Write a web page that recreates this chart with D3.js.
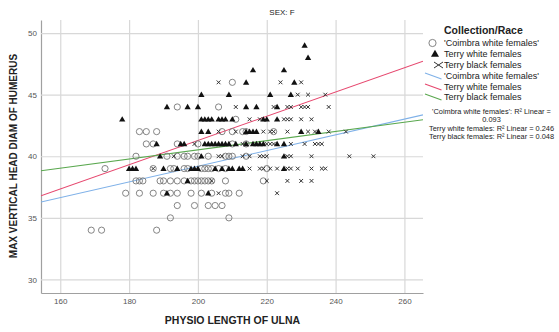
<!DOCTYPE html>
<html><head><meta charset="utf-8">
<script src="https://cdnjs.cloudflare.com/ajax/libs/d3/7.8.5/d3.min.js"></script>
<style>
body{margin:0;background:#fff}
svg text{font-family:"Liberation Sans",Arial,sans-serif}
</style>
</head><body>
<svg id="chart" width="559" height="332"></svg>
<script>
// Axis ticks
const xTicks = [160, 180, 200, 220, 240, 260];
const yTicks = [30, 35, 40, 45, 50];

// Groups
const groupNames = ["'Coimbra white females'", "Terry white females", "Terry black females"];

// [ulna length, humerus head diameter]
const coimbraPts = [
  [210,46],
  [194,44],[206,44],
  [211,43],
  [183,42],[185,42],[188,42],[207,42],[210,42],[213,42],[214,42],[222,42],
  [185,41],[187,41],[194,41],[200,41],[210,41],[214,41],
  [182,40],[191,40],[194,40],[196,40],[197,40],[199,40],[200,40],[203,40],[208,40],[209,40],[210,40],[214,40],
  [173,39],[187,39],[192,39],[193,39],[196,39],[197,39],[201,39],[202,39],[203,39],[204,39],[206,39],[208,39],[220,39],
  [182,38],[183,38],[184,38],[189,38],[190,38],[192,38],[194,38],[196,38],[198,38],[199,38],[200,38],[201,38],[202,38],[203,38],[204,38],[208,38],[219,38],
  [179,37],[183,37],[187,37],[190,37],[192,37],[194,37],[198,37],[201,37],[204,37],[208,37],[209,37],[212,37],
  [194,36],[199,36],[203,36],[205,36],[207,36],
  [192,35],[209,35],
  [169,34],[172,34],[188,34]
];
const terryWhitePts = [
  [231,49],[232,48],[216,47],[225,47],[214,46],[228,46],
  [201,45],[209,45],[221,45],[227,45],
  [191,44],[197,44],[200,44],[214,44],[217,44],[223,44],
  [178,43],[201,43],[202,43],[203,43],[204,43],[206,43],[207,43],[208,43],[210,43],[219,43],[220,43],[223,43],
  [201,42],[203,42],[214,42],[215,42],[216,42],[217,42],[230,42],[235,42],
  [188,41],[195,41],[196,41],[202,41],[203,41],[204,41],[205,41],[206,41],[207,41],[208,41],[209,41],[211,41],[214,41],[216,41],[217,41],[218,41],[219,41],[223,41],[225,41],
  [189,40],[201,40],[225,40],
  [180,39],[181,39],[182,39],[190,39],[194,39],[198,39],[199,39],[200,39],[205,39],[207,39],[209,39],[210,39],[212,39],[213,39],[225,39],
  [197,38],
  [191,37],[203,37]
];
const terryBlackPts = [
  [206,46],[224,46],[230,46],
  [229,45],[232,45],[237,45],
  [211,44],[222,44],[226,44],[227,44],[230,44],[231,44],[232,44],[238,44],
  [215,43],[218,43],[225,43],[226,43],[227,43],[230,43],[233,43],
  [206,42],[211,42],[219,42],[221,42],[222,42],[226,42],[232,42],[234,42],[238,42],[243,42],
  [199,41],[213,41],[220,41],[221,41],[222,41],[227,41],[231,41],[234,41],[235,41],[236,41],
  [193,40],[206,40],[207,40],[213,40],[215,40],[218,40],[219,40],[220,40],[226,40],[227,40],[233,40],[244,40],[251,40],
  [187,39],[215,39],[218,39],[219,39],[221,39],[223,39],[226,39],[227,39],[229,39],[233,39],[236,39],[237,39],
  [204,38],[220,38],[226,38],[230,38],[233,38],
  [206,37],[223,37]
];

// Linear fit per group: y = intercept + slope * x
const fitIntercepts = [26.45, 21.60, 33.06];
const fitSlopes = [0.0637, 0.0984, 0.0373];
const rSquared = ["0.093", "0.246", "0.048"];

const lineColors = ["#7fb1e8", "#e6476e", "#5aa84f"];

const svg = d3.select("#chart");
svg.append("rect").attr("width", 559).attr("height", 332).attr("fill", "#fff");

const plot = {left: 41, right: 423, top: 20, bottom: 293};
const x = d3.scaleLinear().domain([154.4, 265.4]).range([plot.left, plot.right]);
const y = d3.scaleLinear().domain([28.9, 51.06]).range([plot.bottom, plot.top]);

// Grid + axes
const gx = svg.append("g").attr("transform", `translate(0,${plot.bottom})`)
  .call(d3.axisBottom(x).tickValues(xTicks).tickSizeInner(-(plot.bottom - plot.top)).tickSizeOuter(0).tickPadding(5));
const gy = svg.append("g").attr("transform", `translate(${plot.left},0)`)
  .call(d3.axisLeft(y).tickValues(yTicks).tickSizeInner(-(plot.right - plot.left)).tickSizeOuter(0).tickPadding(4));
[gx, gy].forEach(g => {
  g.selectAll(".tick line").attr("stroke", "#d8d8d8").attr("stroke-width", 1.2);
  g.selectAll(".tick text").attr("fill", "#555").attr("font-size", 8).attr("font-family", "DejaVu Sans, sans-serif");
  g.select(".domain").attr("stroke", "#a0a0a0").attr("stroke-width", 1.2);
});

// Fit lines
svg.append("clipPath").attr("id", "plotclip").append("rect")
  .attr("x", plot.left).attr("y", plot.top).attr("width", plot.right - plot.left).attr("height", plot.bottom - plot.top);
const lineGen = d3.line().x(d => x(d[0])).y(d => y(d[1]));
const dom = x.domain();
fitIntercepts.forEach((b, i) => {
  const pts = dom.map(v => [v, b + fitSlopes[i] * v]);
  svg.append("path").attr("d", lineGen(pts)).attr("fill", "none")
    .attr("stroke", lineColors[i]).attr("stroke-width", 1.1).attr("clip-path", "url(#plotclip)");
});

// Markers
const crossPath = s => `M${-s},${-s}L${s},${s}M${-s},${s}L${s},${-s}`;
const tri = d3.symbol(d3.symbolTriangle, 17)();

svg.append("g").selectAll("circle").data(coimbraPts).join("circle")
  .attr("cx", d => x(d[0])).attr("cy", d => y(d[1])).attr("r", 3.1)
  .attr("fill", "none").attr("stroke", "#777").attr("stroke-width", 0.9);
svg.append("g").selectAll("path").data(terryWhitePts).join("path")
  .attr("d", tri).attr("transform", d => `translate(${x(d[0])},${y(d[1]) + 0.5})`)
  .attr("fill", "#111");
svg.append("g").selectAll("path").data(terryBlackPts).join("path")
  .attr("d", crossPath(1.9)).attr("transform", d => `translate(${x(d[0])},${y(d[1])})`)
  .attr("stroke", "#333").attr("stroke-width", 1).attr("fill", "none");

// Titles
svg.append("text").attr("x", 282).attr("y", 15).attr("text-anchor", "middle")
  .attr("font-size", 8).attr("fill", "#222").text("SEX: F");
svg.append("text").attr("x", 232.5).attr("y", 324).attr("text-anchor", "middle")
  .attr("font-size", 10.5).attr("font-weight", "bold").attr("fill", "#222").text("PHYSIO LENGTH OF ULNA");
svg.append("text").attr("transform", "translate(17,156) rotate(-90)").attr("text-anchor", "middle")
  .attr("font-size", 10).attr("font-weight", "bold").attr("fill", "#222").text("MAX VERTICAL HEAD DIAM OF HUMERUS");

// Legend
const lg = svg.append("g");
lg.append("text").attr("x", 444).attr("y", 34).attr("font-size", 10.5).attr("font-weight", "bold")
  .attr("fill", "#222").text("Collection/Race");
const rowY = [43, 54, 65, 76, 87, 97];
const labels = groupNames.concat(groupNames);
labels.forEach((t, i) => {
  lg.append("text").attr("x", 444).attr("y", rowY[i] + 3.2).attr("font-size", 9).attr("fill", "#222").text(t);
});
lg.append("circle").attr("cx", 432.5).attr("cy", rowY[0]).attr("r", 3.6)
  .attr("fill", "none").attr("stroke", "#777").attr("stroke-width", 0.9);
lg.append("path").attr("d", d3.symbol(d3.symbolTriangle, 28)()).attr("transform", `translate(435,${rowY[1] + 0.5})`).attr("fill", "#111");
lg.append("path").attr("d", `M434,${rowY[2] - 3}L443,${rowY[2] + 3}M434,${rowY[2] + 3}L443,${rowY[2] - 3}`)
  .attr("stroke", "#333").attr("stroke-width", 1).attr("fill", "none");
[0, 1, 2].forEach(i => {
  const cy = rowY[3 + i];
  lg.append("line").attr("x1", 425).attr("y1", cy - 3).attr("x2", 441.5).attr("y2", cy + 3)
    .attr("stroke", lineColors[i]).attr("stroke-width", 1.1);
});

// R-squared notes
const rLines = [
  `${groupNames[0]}: R² Linear =`,
  rSquared[0],
  `${groupNames[1]}: R² Linear = ${rSquared[1]}`,
  `${groupNames[2]}: R² Linear = ${rSquared[2]}`
];
const rY = [113.5, 122, 130.5, 139];
rLines.forEach((t, i) => {
  lg.append("text").attr("x", 491.5).attr("y", rY[i]).attr("text-anchor", "middle")
    .attr("font-size", 7.4).attr("fill", "#222").text(t);
});
</script>
</body></html>
